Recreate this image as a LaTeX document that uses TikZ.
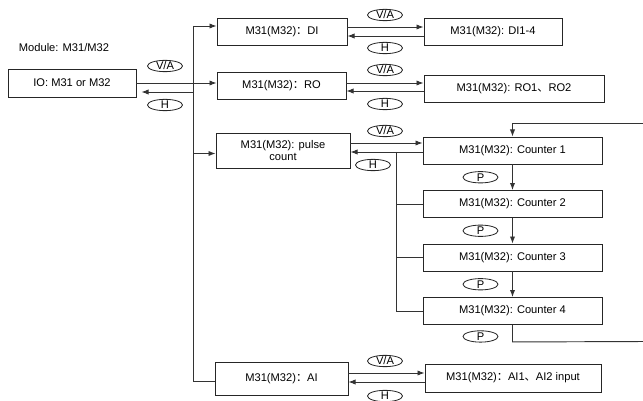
\documentclass[tikz,border=0pt]{standalone}
\usepackage{fontspec}
\setmainfont{Liberation Sans}
\newfontfamily\cjk{Noto Sans CJK SC}
\usetikzlibrary{arrows.meta,positioning,calc,shapes.geometric}

\tikzset{
  box/.style={draw=black!85,line width=0.8pt,minimum height=0.81cm,inner sep=1pt,
    font=\fontsize{9.5}{11}\selectfont,align=center},
  tag/.style={draw=black!85,ellipse,line width=0.7pt,minimum width=1.05cm,minimum height=0.34cm,
    inner sep=0pt,text height=6.5pt,text depth=0pt,font=\fontsize{9.5}{10}\selectfont},
  link/.style={draw=black!80,line width=0.8pt},
  arr/.style={link,-{Latex[length=6pt,width=4.5pt]}},
}

\begin{document}
\begin{tikzpicture}[x=0.03cm,y=-0.03cm]
  \useasboundingbox (0,0) rectangle (643,401);
  % boxes
  \node[font=\fontsize{9.5}{11}\selectfont] (title) at (64,48) {Module: M31/M32};
  \node[box,minimum width=3.84cm,minimum height=0.84cm] (io) at (72,83) {IO: M31 or M32};
  \node[box,minimum width=3.9cm] (di) at (282,31.5) {M31(M32){\cjk ：}DI};
  \node[box,minimum width=4.14cm] (dis) at (493,31.5) {M31(M32): DI1-4};
  \node[box,minimum width=3.87cm] (ro) at (281.5,86) {M31(M32){\cjk ：}RO};
  \node[box,minimum width=5.4cm] (ros) at (514,88.5) {M31(M32): RO1{\cjk 、}RO2};
  \node[box,minimum width=4.02cm,minimum height=1.05cm] (pc) at (283,150.5) {M31(M32): pulse\\count};
  \foreach \i/\y in {1/150.5,2/204,3/257.5,4/311}
    \node[box,minimum width=5.37cm] (c\i) at (512.5,\y) {M31(M32): Counter \i};
  \node[box,minimum width=3.99cm,minimum height=0.99cm] (ai) at (281.5,378.5) {M31(M32){\cjk ：}AI};
  \node[box,minimum width=5.28cm,minimum height=0.84cm] (ais) at (513,378) {M31(M32){\cjk ：}AI1{\cjk 、}AI2 input};

  % trunk
  \coordinate (top) at (193,26);
  \coordinate (bot) at ($(ai.west -| top)+(0,3)$);
  \draw[link] (top) -- (bot);
  \draw[arr] (top) -- (top -| di.west);
  \draw[arr] (io.east) -- (io.east -| ro.west);
  \draw[arr] (io.east -| top) ++(0,9) -- ($(io.east)+(5,9)$);
  \draw[arr] (pc.west -| top) ++(0,3) -- ($(pc.west)+(0,3)$);
  \draw[link] (bot) -- ($(ai.west)+(0,3)$);

  % V/A and H links
  \draw[arr] ($(di.east)+(0,-4.5)$) -- ($(dis.west)+(0,-4.5)$);
  \draw[arr] ($(dis.west)+(0,4.5)$) -- ($(di.east)+(0,4.5)$);
  \draw[arr] ($(ro.east)+(0,-3)$) -- ($(ros.west)+(0,-5.5)$);
  \draw[arr] ($(ros.west)+(0,2.5)$) -- ($(ro.east)+(0,5)$);
  \draw[arr] ($(pc.east)+(0,-7.5)$) -- ($(c1.west)+(0,-7.5)$);
  \draw[arr] ($(c1.west)+(0,1.5)$) -- ($(pc.east)+(0,1.5)$);
  \draw[arr] ($(ai.east)+(0,-5.5)$) -- ($(ais.west)+(0,-5)$);
  \draw[arr] ($(ais.west)+(0,4)$) -- ($(ai.east)+(0,3.5)$);

  % counters
  \coordinate (br) at (396,152);
  \draw[link] (br) |- (c4.west);
  \draw[link] (br |- c2.west) -- (c2.west);
  \draw[link] (br |- c3.west) -- (c3.west);
  \foreach \a/\b [count=\k] in {c1/c2,c2/c3,c3/c4} {
    \draw[arr] (\a.south) -- (\b.north);
    \node[tag] (p\k) at ($(\a.south)!0.5!(\b.north)+(-32,0)$) {P};
  }
  \node[tag] (p4) at ($(c4.south)+(-32,11.5)$) {P};
  \draw[arr] (c4.south) -- ++(0,17) -- (647,341.5) |- ($(c1.north)+(0,-13)$) -- (c1.north);

  % tags
  \node[tag] (iova) at (165,66) {V/A};
  \node[tag] (ioh) at (165,105) {H};
  \node[tag] (diva) at (385,15) {V/A};
  \node[tag] (dih) at (385,48) {H};
  \node[tag] (rova) at (385,70) {V/A};
  \node[tag] (roh) at (385,104) {H};
  \node[tag] (pcva) at (385,131) {V/A};
  \node[tag] (pch) at (373,165) {H};
  \node[tag] (aiva) at (385,361) {V/A};
  \node[tag] (aih) at (385,396) {H};
\end{tikzpicture}
\end{document}
